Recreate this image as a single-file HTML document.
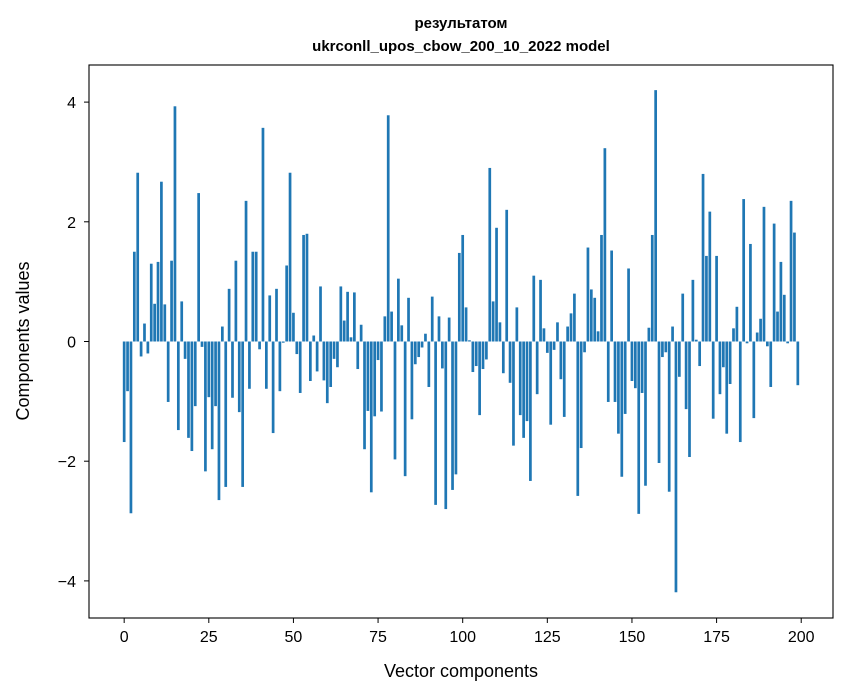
<!DOCTYPE html>
<html><head><meta charset="utf-8"><style>
html,body{margin:0;padding:0;background:#fff}
svg{display:block;font-family:"Liberation Sans","DejaVu Sans",sans-serif}
</style></head><body>
<svg id="chart" width="847" height="696">
<rect width="847" height="696" fill="#fff"/>
<g id="bars"></g>
<rect x="89" y="65" width="744" height="553" fill="none" stroke="#000" stroke-width="1.1"/>
<g id="xticks"></g>
<g id="yticks"></g>
<text x="461" y="28" text-anchor="middle" font-size="15" font-weight="bold">результатом</text>
<text x="461" y="51" text-anchor="middle" font-size="15" font-weight="bold">ukrconll_upos_cbow_200_10_2022 model</text>
<text x="461" y="677" text-anchor="middle" font-size="18">Vector components</text>
<text x="29" y="341" text-anchor="middle" font-size="18" transform="rotate(-90 29 341)">Components values</text>
</svg>
<script>
const values = [
-1.68,-0.83,-2.87,1.5,2.82,-0.25,0.3,-0.2,1.3,0.63,
1.33,2.67,0.62,-1.01,1.35,3.93,-1.48,0.67,-0.29,-1.61,
-1.83,-1.08,2.48,-0.09,-2.17,-0.93,-1.8,-1.08,-2.65,0.25,
-2.43,0.88,-0.94,1.35,-1.18,-2.43,2.35,-0.79,1.5,1.5,
-0.13,3.57,-0.79,0.77,-1.53,0.88,-0.83,-0.02,1.27,2.82,
0.48,-0.21,-0.86,1.78,1.8,-0.66,0.1,-0.5,0.92,-0.65,
-1.03,-0.76,-0.29,-0.43,0.92,0.35,0.83,0.07,0.82,-0.46,
0.28,-1.8,-1.16,-2.52,-1.25,-0.31,-1.17,0.42,3.78,0.5,
-1.97,1.05,0.27,-2.25,0.73,-1.3,-0.38,-0.26,-0.1,0.13,
-0.76,0.75,-2.73,0.42,-0.45,-2.8,0.4,-2.48,-2.22,1.48,
1.78,0.57,0.02,-0.51,-0.41,-1.23,-0.46,-0.3,2.9,0.67,
1.9,0.32,-0.53,2.2,-0.69,-1.74,0.57,-1.23,-1.61,-1.33,
-2.33,1.1,-0.88,1.03,0.22,-0.19,-1.39,-0.14,0.32,-0.63,
-1.26,0.25,0.47,0.8,-2.58,-1.78,-0.18,1.57,0.87,0.73,
0.17,1.78,3.23,-1.01,1.52,-1.01,-1.54,-2.26,-1.21,1.22,
-0.66,-0.78,-2.88,-0.86,-2.41,0.23,1.78,4.2,-2.03,-0.26,
-0.18,-2.51,0.25,-4.19,-0.59,0.8,-1.13,-1.93,1.03,0.03,
-0.41,2.8,1.43,2.17,-1.29,1.43,-0.88,-0.43,-1.54,-0.71,
0.22,0.58,-1.68,2.38,-0.03,1.63,-1.28,0.15,0.38,2.25,
-0.08,-0.76,1.97,0.5,1.33,0.78,-0.03,2.35,1.82,-0.73
];
const xTickValues = [0,25,50,75,100,125,150,175,200];
const yTickValues = [-4,-2,0,2,4];
const NS='http://www.w3.org/2000/svg';
const xMin=-10.39, xMax=209.39, yMin=-4.62, yMax=4.62;
const L=89, R=833, T=65, B=618;
function sx(v){return L+(v-xMin)/(xMax-xMin)*(R-L);}
function sy(v){return B-(v-yMin)/(yMax-yMin)*(B-T);}
const gb=document.getElementById('bars');
values.forEach((v,i)=>{
  const r=document.createElementNS(NS,'rect');
  const x0=sx(i-0.4), x1=sx(i+0.4);
  const y0=sy(Math.max(v,0)), y1=sy(Math.min(v,0));
  r.setAttribute('x',x0);r.setAttribute('width',x1-x0);
  r.setAttribute('y',y0);r.setAttribute('height',Math.max(y1-y0,0.3));
  r.setAttribute('fill','#1f77b4');
  
  
  gb.appendChild(r);
});
const gx=document.getElementById('xticks');
xTickValues.forEach(t=>{
  const x=sx(t);
  const l=document.createElementNS(NS,'line');
  l.setAttribute('x1',x);l.setAttribute('x2',x);l.setAttribute('y1',B);l.setAttribute('y2',B+5);
  l.setAttribute('stroke','#000');l.setAttribute('stroke-width','1');
  
  
  gx.appendChild(l);
  const tx=document.createElementNS(NS,'text');
  tx.setAttribute('x',x);tx.setAttribute('y',B+24);tx.setAttribute('text-anchor','middle');tx.setAttribute('font-size','16');
  tx.textContent=t;
  
  
  gx.appendChild(tx);
});
const gy=document.getElementById('yticks');
yTickValues.forEach(t=>{
  const y=sy(t);
  const l=document.createElementNS(NS,'line');
  l.setAttribute('x1',L-5);l.setAttribute('x2',L);l.setAttribute('y1',y);l.setAttribute('y2',y);
  l.setAttribute('stroke','#000');l.setAttribute('stroke-width','1');
  
  
  gy.appendChild(l);
  const tx=document.createElementNS(NS,'text');
  tx.setAttribute('x',L-13);tx.setAttribute('y',y+6);tx.setAttribute('text-anchor','end');tx.setAttribute('font-size','16');
  tx.textContent=t<0?'\u2212'+Math.abs(t):String(t);
  
  
  gy.appendChild(tx);
});
</script>
</body></html>
